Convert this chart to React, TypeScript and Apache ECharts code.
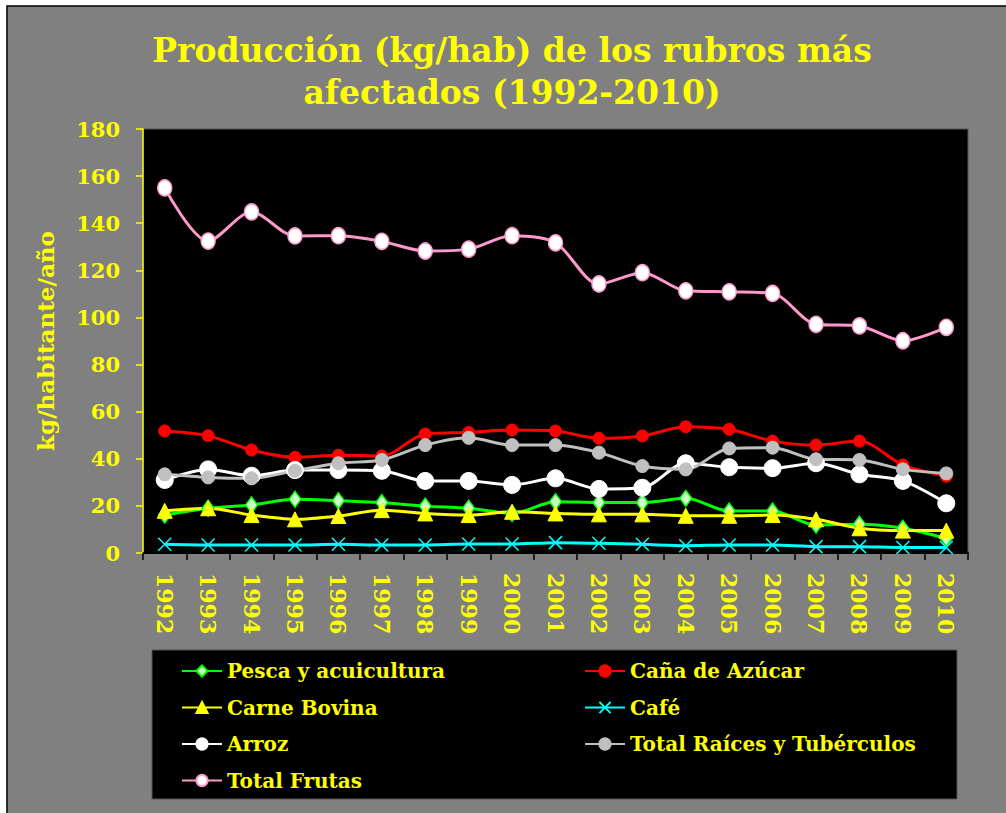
import React, { useEffect, useRef } from "react";
import * as echarts from "echarts";

const years = ["1992","1993","1994","1995","1996","1997","1998","1999","2000","2001","2002","2003","2004","2005","2006","2007","2008","2009","2010"];
const pesca = [16.1, 19.0, 20.4, 22.8, 22.2, 21.4, 19.9, 19.0, 16.8, 21.8, 21.4, 21.4, 23.2, 17.8, 17.8, 11.9, 12.2, 10.5, 6.2];
const cana = [51.8, 49.8, 43.7, 40.6, 41.5, 41.2, 50.5, 51.2, 52.2, 51.8, 48.7, 49.7, 53.6, 52.5, 47.5, 45.8, 47.5, 37.4, 32.6];
const carne = [17.9, 19.0, 16.1, 14.3, 15.7, 18.2, 16.8, 16.1, 17.5, 16.8, 16.4, 16.4, 15.8, 15.8, 16.1, 14.3, 10.5, 9.5, 9.5];
const cafe = [3.7, 3.4, 3.4, 3.4, 3.7, 3.4, 3.4, 3.8, 3.8, 4.4, 4.1, 3.7, 3.1, 3.4, 3.4, 2.7, 2.7, 2.3, 2.3];
const arroz = [31.0, 35.5, 32.8, 35.2, 35.2, 34.9, 30.6, 30.6, 28.9, 31.7, 27.2, 27.7, 38.1, 36.4, 36.0, 38.1, 33.4, 30.6, 21.1];
const raices = [33.4, 32.1, 31.7, 34.9, 38.1, 39.5, 45.8, 48.9, 45.8, 45.8, 42.6, 36.9, 35.5, 44.4, 44.7, 39.8, 39.5, 35.5, 33.8];
const frutas = [155.0, 132.4, 144.8, 134.6, 134.7, 132.3, 128.2, 129.0, 134.7, 131.7, 114.2, 119.0, 111.3, 110.9, 110.2, 97.1, 96.4, 90.1, 95.8];

const FONT = "DejaVu Serif";
const YEL = "#FFFF00";

export default function App() {
  const ref = useRef<HTMLDivElement>(null);
  useEffect(() => {
    if (!ref.current) return;
    const chart = echarts.init(ref.current, null, { renderer: "svg" });
    const crossPath = "path://M0,0L10,10M10,0L0,10";
    const mk = (name: string, data: number[], color: string, symbol: string, size: any, fill: string, border: string, bw: number, smooth = 0.3) => ({
      name,
      type: "line",
      data,
      smooth,
      symbol,
      symbolSize: size,
      showAllSymbol: true,
      lineStyle: { color, width: 3 },
      itemStyle: { color: fill, borderColor: border, borderWidth: bw },
    });
    const legendText = { color: YEL, fontFamily: FONT, fontWeight: "bold", fontSize: 20 };
    chart.setOption({
      animation: false,
      backgroundColor: "#FFFFFF",
      graphic: [
        { type: "rect", shape: { x: 7, y: 6, width: 1010, height: 820 }, style: { fill: "#808080", stroke: "#000000", lineWidth: 1.5 }, z: -10 },
        { type: "rect", shape: { x: 152, y: 650, width: 805, height: 149 }, style: { fill: "#000000", stroke: "#555555", lineWidth: 1 }, z: -5 },
        {
          type: "text",
          x: 512,
          y: 71,
          style: {
            text: "Producción (kg/hab) de los rubros más\nafectados (1992-2010)",
            fill: YEL,
            font: `bold 33px "${FONT}"`,
            textAlign: "center",
            textVerticalAlign: "middle",
            lineHeight: 42,
          },
        },
      ],
      grid: { left: 143, right: 38, top: 129, bottom: 260, show: true, backgroundColor: "#000000", borderColor: "#555555", borderWidth: 1 },
      legend: [
        {
          orient: "vertical",
          left: 181,
          top: 661,
          padding: 0,
          itemWidth: 40,
          itemHeight: 14,
          itemGap: 16.5,
          data: ["Pesca y acuicultura", "Carne Bovina", "Arroz", "Total Frutas"],
          textStyle: legendText,
        },
        {
          orient: "vertical",
          left: 584,
          top: 661,
          padding: 0,
          itemWidth: 40,
          itemHeight: 14,
          itemGap: 16.5,
          data: ["Caña de Azúcar", "Café", "Total Raíces y Tubérculos"],
          textStyle: legendText,
        },
      ],
      xAxis: {
        type: "category",
        data: years,
        boundaryGap: true,
        axisLine: { show: true, lineStyle: { color: "#000000", width: 2 } },
        axisTick: { show: true, inside: false, length: 7, lineStyle: { color: "#000000", width: 1.5 } },
        axisLabel: { rotate: -90, margin: 20, color: YEL, fontFamily: FONT, fontWeight: "bold", fontSize: 22, interval: 0 },
        splitLine: { show: false },
      },
      yAxis: {
        type: "value",
        min: 0,
        max: 180,
        interval: 20,
        name: "kg/habitante/año",
        nameLocation: "middle",
        nameRotate: 90,
        nameGap: 86,
        nameTextStyle: { color: YEL, fontFamily: FONT, fontWeight: "bold", fontSize: 23 },
        axisLine: { show: true, lineStyle: { color: YEL, width: 1.5 } },
        axisTick: { show: true, inside: false, length: 7, lineStyle: { color: YEL, width: 1.5 } },
        axisLabel: { margin: 23, color: YEL, fontFamily: FONT, fontWeight: "bold", fontSize: 21 },
        splitLine: { show: false },
      },
      series: [
        mk("Pesca y acuicultura", pesca, "#00FF00", "diamond", [12, 16], "#CCFFCC", "#00FF00", 1.5),
        mk("Caña de Azúcar", cana, "#FF0000", "circle", 12, "#FF0000", "#FF0000", 1),
        mk("Carne Bovina", carne, "#FFFF00", "triangle", 15, "#FFFF00", "#FFFF00", 1),
        mk("Café", cafe, "#00FFFF", crossPath, 13, "#00FFFF", "#00FFFF", 1.5),
        mk("Arroz", arroz, "#FFFFFF", "circle", 17, "#FFFFFF", "#FFFFFF", 1),
        mk("Total Raíces y Tubérculos", raices, "#C0C0C0", "circle", 13, "#C0C0C0", "#C0C0C0", 1),
        mk("Total Frutas", frutas, "#FF99CC", "circle", [14, 16], "#FFFFFF", "#FF99CC", 1.5),
      ],
    });
    return () => chart.dispose();
  }, []);
  return <div ref={ref} style={{ position: "fixed", left: 0, top: 0, width: 1006, height: 813 }} />;
}
